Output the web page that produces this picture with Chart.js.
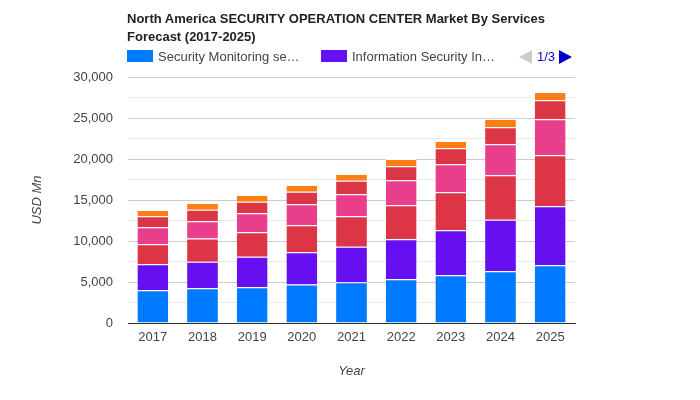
<!DOCTYPE html>
<html>
<head>
<meta charset="utf-8">
<script src="https://cdn.jsdelivr.net/npm/chart.js@4"></script>
<style>
  body { margin: 0; background: #fff; }
  #wrap { position: relative; width: 700px; height: 400px; font-family: "Liberation Sans", Arial, sans-serif; }
  #title { position: absolute; left: 127px; top: 10px; font-size: 13px; font-weight: bold; color: #222; line-height: 18px; }
  .lg { position: absolute; top: 49px; font-size: 13px; color: #444; line-height: 16px; white-space: nowrap; }
  .box { display: inline-block; width: 26px; height: 12px; vertical-align: -1px; margin-right: 5px; }
  #pager { position: absolute; left: 519px; top: 49px; height: 16px; width: 60px; font-size: 13px; line-height: 16px; color: #0000cc; }
  .tri { position: absolute; top: 1px; width: 0; height: 0; border-top: 7px solid transparent; border-bottom: 7px solid transparent; }
  canvas { position: absolute; left: 0; top: 0; }
</style>
</head>
<body>
<div id="wrap">
  <canvas id="chart" width="700" height="400"></canvas>
  <div id="title">North America SECURITY OPERATION CENTER Market By Services<br>Forecast (2017-2025)</div>
  <div class="lg" style="left:127px"><span class="box" style="background:#007bff"></span>Security Monitoring se…</div>
  <div class="lg" style="left:321px"><span class="box" style="background:#6610f2"></span>Information Security In…</div>
  <div id="pager">
    <span class="tri" style="left:0; border-right:13px solid #cccccc"></span>
    <span style="position:absolute; left:18px; top:0">1/3</span>
    <span class="tri" style="left:40px; border-left:13px solid #0000cc"></span>
  </div>
</div>
<script>
const years = ['2017', '2018', '2019', '2020', '2021', '2022', '2023', '2024', '2025'];
const seriesNames = [
  'Security Monitoring services',
  'Information Security Incident Management',
  'Threat Intelligence',
  'Vulnerability Management',
  'Compliance Management',
  'Others'
];
const seriesColors = ['#007bff', '#6610f2', '#dc3545', '#e83e8c', '#dc3545', '#fd7e14'];
const monitoring = [3990, 4230, 4350, 4680, 4960, 5330, 5810, 6300, 7030];
const incident = [3170, 3250, 3740, 3940, 4350, 4880, 5490, 6300, 7200];
const threat = [2440, 2810, 2970, 3290, 3700, 4150, 4630, 5410, 6220];
const vulnerability = [2070, 2110, 2320, 2560, 2680, 3050, 3420, 3780, 4390];
const compliance = [1340, 1420, 1420, 1540, 1670, 1710, 1950, 2070, 2320];
const others = [770, 810, 810, 810, 810, 890, 890, 1020, 1020];
const allValues = [monitoring, incident, threat, vulnerability, compliance, others];

const datasets = allValues.map((vals, i) => ({
  label: seriesNames[i],
  data: vals,
  backgroundColor: seriesColors[i],
  borderColor: '#fff',
  borderWidth: { top: 1, left: 0, right: 0, bottom: 0 },
  borderSkipped: false,
  barPercentage: 0.62,
  categoryPercentage: 1
}));

const tickFont = { family: 'Liberation Sans, Arial, sans-serif', size: 13 };
const titleFont = { family: 'Liberation Sans, Arial, sans-serif', size: 13, style: 'italic' };

new Chart(document.getElementById('chart').getContext('2d'), {
  type: 'bar',
  data: { labels: years, datasets: datasets },
  options: {
    responsive: false,
    animation: false,
    layout: { padding: { top: 77, right: 125, left: 0, bottom: 0 } },
    plugins: { legend: { display: false }, tooltip: { enabled: false } },
    scales: {
      x: {
        stacked: true,
        grid: { display: false, drawTicks: false },
        border: { display: true, color: '#333' },
        ticks: { color: '#444', font: tickFont, padding: 7 },
        title: { display: true, text: 'Year', color: '#444', font: titleFont, padding: { top: 0, bottom: 21 } },
        afterFit: s => { s.height = 77; }
      },
      y: {
        stacked: true,
        min: 0,
        max: 30000,
        border: { display: false },
        grid: {
          drawTicks: false,
          color: c => c.tick.value === 0 ? 'rgba(0,0,0,0)' : (c.tick.value % 5000 === 0 ? '#cccccc' : '#ebebeb')
        },
        ticks: {
          stepSize: 2500,
          color: '#444',
          font: tickFont,
          padding: 15,
          callback: v => v % 5000 === 0 ? v.toLocaleString('en-US') : ''
        },
        title: { display: true, text: 'USD Mn', color: '#444', font: titleFont, padding: { top: 30, bottom: 0 } },
        afterFit: s => { s.width = 128; }
      }
    }
  }
});
</script>
</body>
</html>
